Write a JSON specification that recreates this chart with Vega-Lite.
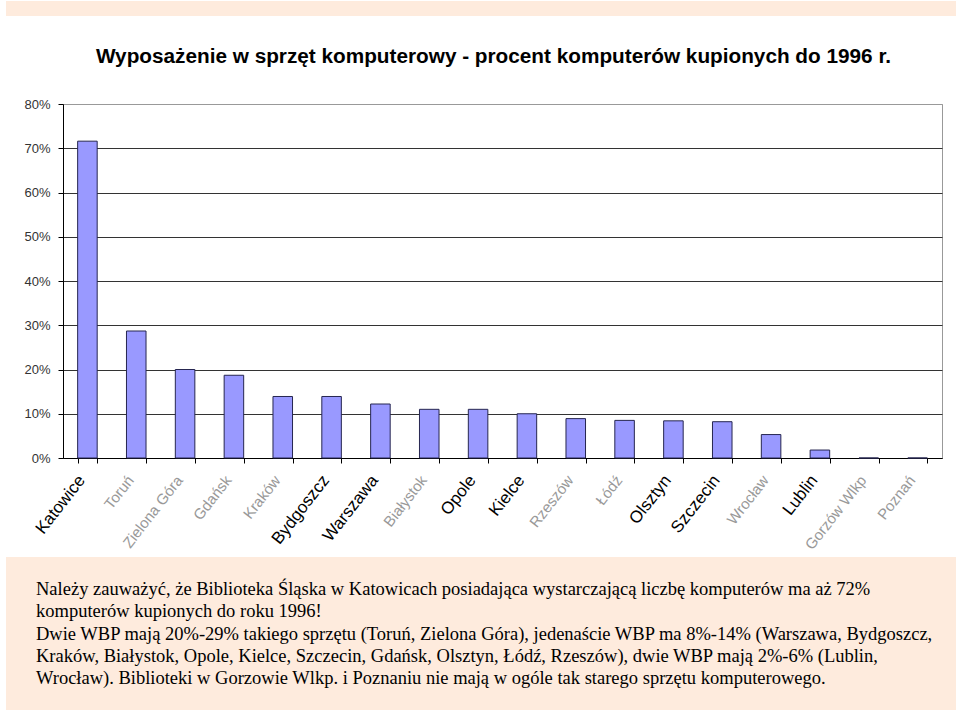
{
  "$schema": "https://vega.github.io/schema/vega-lite/v6.json",
  "background": "white",
  "padding": {"left": 5, "right": 5, "top": 1, "bottom": 0},
  "config": {
    "view": {"stroke": null},
    "font": "Liberation Sans"
  },
  "spacing": 4,
  "vconcat": [
    {
      "spacing": 29,
      "vconcat": [
        {
          "width": 879,
          "height": 15,
          "data": {"values": [{"pas": 1}]},
          "mark": {"type": "rect", "fill": "#FEEBDD"},
          "encoding": {
            "x": {"datum": 0, "type": "quantitative", "scale": {"domain": [0, 1], "range": [-57, 893]}, "axis": null},
            "x2": {"datum": 1}
          }
        },
        {
          "width": 879,
          "height": 354,
          "view": {"stroke": "#999999", "strokeWidth": 1},
          "title": {
            "text": "Wyposażenie w sprzęt komputerowy - procent komputerów kupionych do 1996 r.",
            "font": "Liberation Sans",
            "fontSize": 20.75,
            "fontWeight": "bold",
            "color": "black",
            "offset": 30,
            "dx": -9
          },
          "data": {
            "values": [
              {"miasto": "Katowice", "procent": 71.6},
              {"miasto": "Toruń", "procent": 28.7},
              {"miasto": "Zielona Góra", "procent": 20.0},
              {"miasto": "Gdańsk", "procent": 18.7},
              {"miasto": "Kraków", "procent": 13.9},
              {"miasto": "Bydgoszcz", "procent": 13.9},
              {"miasto": "Warszawa", "procent": 12.2},
              {"miasto": "Białystok", "procent": 11.0},
              {"miasto": "Opole", "procent": 11.0},
              {"miasto": "Kielce", "procent": 10.0},
              {"miasto": "Rzeszów", "procent": 8.9},
              {"miasto": "Łódź", "procent": 8.5},
              {"miasto": "Olsztyn", "procent": 8.4},
              {"miasto": "Szczecin", "procent": 8.2},
              {"miasto": "Wrocław", "procent": 5.3},
              {"miasto": "Lublin", "procent": 1.8},
              {"miasto": "Gorzów Wlkp", "procent": 0},
              {"miasto": "Poznań", "procent": 0}
            ]
          },
          "mark": {"type": "bar", "fill": "#9999FF", "stroke": "#262650", "strokeWidth": 1},
          "encoding": {
            "x": {
              "field": "miasto",
              "type": "nominal",
              "sort": null,
              "scale": {"paddingInner": 0.6, "paddingOuter": 0.3},
              "axis": {
                "title": null,
                "labelAngle": -52,
                "labelPadding": 14,
                "labelOffset": -6,
                "labelFont": "Liberation Sans",
                "labelFontSize": {"condition": {"test": "indexof(['Katowice','Bydgoszcz','Warszawa','Opole','Kielce','Olsztyn','Szczecin','Lublin'], datum.value) >= 0", "value": 17}, "value": 15},
                "labelColor": {"condition": {"test": "indexof(['Katowice','Bydgoszcz','Warszawa','Opole','Kielce','Olsztyn','Szczecin','Lublin'], datum.value) >= 0", "value": "#000000"}, "value": "#999999"},
                "tickBand": "extent",
                "tickExtra": true,
                "tickSize": 5,
                "tickColor": "#000000",
                "domainColor": "#000000",
                "grid": false,
                "labelLimit": 300
              }
            },
            "y": {
              "field": "procent",
              "type": "quantitative",
              "scale": {"domain": [0, 80]},
              "axis": {
                "title": null,
                "values": [0, 10, 20, 30, 40, 50, 60, 70, 80],
                "labelExpr": "datum.value + '%'",
                "labelFont": "Liberation Sans",
                "labelFontSize": 13,
                "labelColor": "#333333",
                "labelPadding": 8,
                "tickSize": 5,
                "tickColor": "#000000",
                "domainColor": "#000000",
                "gridColor": {"condition": {"test": "datum.value == 80", "value": "#999999"}, "value": "#333333"},
                "gridOpacity": 1,
                "minExtent": 57,
                "maxExtent": 57
              }
            }
          }
        }
      ]
    },
    {
      "width": 879,
      "height": 153,
      "data": {
        "values": [
          {"wiersz": 1, "tekst": "Należy zauważyć, że Biblioteka Śląska w Katowicach posiadająca wystarczającą liczbę komputerów ma aż 72%"},
          {"wiersz": 2, "tekst": "komputerów kupionych do roku 1996!"},
          {"wiersz": 3, "tekst": "Dwie WBP mają 20%-29% takiego sprzętu (Toruń, Zielona Góra), jedenaście WBP ma 8%-14% (Warszawa, Bydgoszcz,"},
          {"wiersz": 4, "tekst": "Kraków, Białystok, Opole, Kielce, Szczecin, Gdańsk, Olsztyn, Łódź, Rzeszów), dwie WBP mają 2%-6% (Lublin,"},
          {"wiersz": 5, "tekst": "Wrocław). Biblioteki w Gorzowie Wlkp. i Poznaniu nie mają w ogóle tak starego sprzętu komputerowego."}
        ]
      },
      "layer": [
        {
          "mark": {"type": "rect", "fill": "#FEEBDD"},
          "encoding": {
            "x": {"datum": 0, "type": "quantitative", "scale": {"domain": [0, 1], "range": [-57, 893]}, "axis": null},
            "x2": {"datum": 1}
          }
        },
        {
          "mark": {"type": "text", "align": "left", "baseline": "middle", "font": "Liberation Serif", "fontSize": 18.5, "color": "#000000", "dx": 30},
          "encoding": {
            "x": {"datum": 0, "type": "quantitative", "scale": {"domain": [0, 1], "range": [-57, 893]}, "axis": null},
            "y": {"field": "wiersz", "type": "quantitative", "scale": {"domain": [-0.44, 6.44], "reverse": true}, "axis": null},
            "text": {"field": "tekst"}
          }
        }
      ]
    }
  ]
}
